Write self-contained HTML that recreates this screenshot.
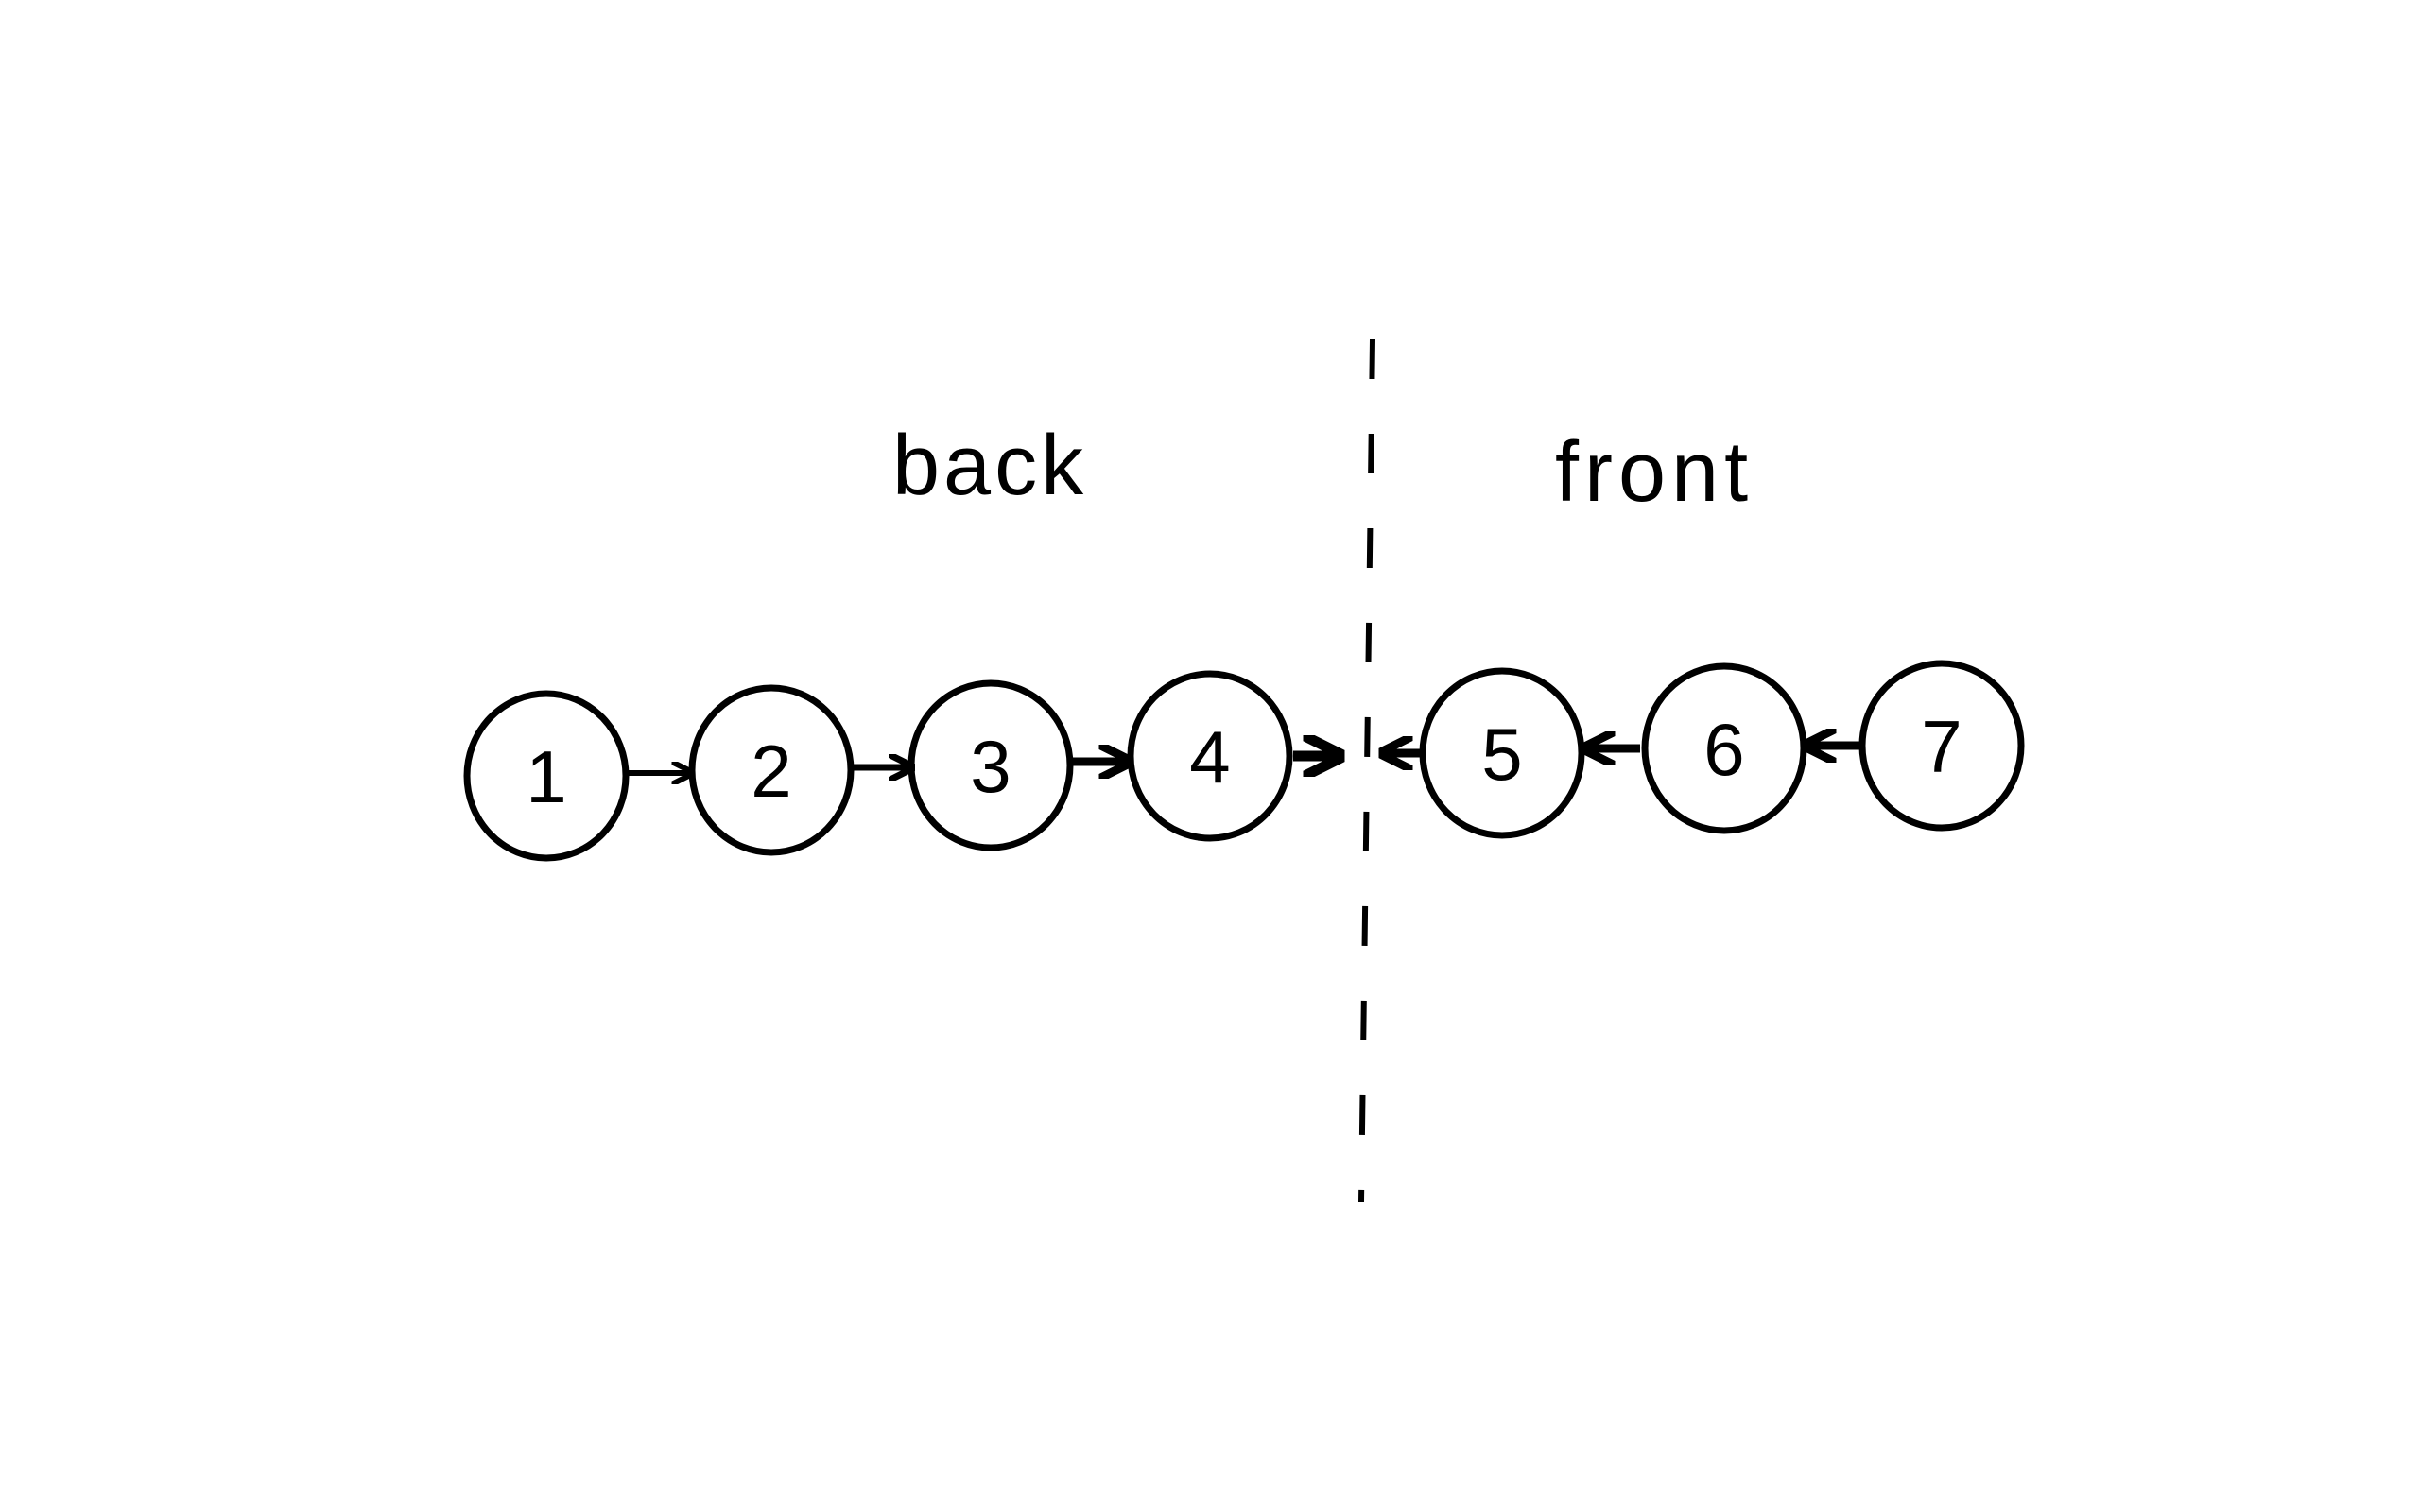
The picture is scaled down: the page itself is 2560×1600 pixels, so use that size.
<!DOCTYPE html>
<html><head><meta charset="utf-8"><style>
html,body{margin:0;padding:0;background:#fff;width:2560px;height:1600px;overflow:hidden}
svg{display:block}
text{font-family:"Liberation Sans",sans-serif;fill:#000}
</style></head><body>
<svg width="2560" height="1600" viewBox="0 0 2560 1600">
<defs>
<marker id="ah" viewBox="0 0 10 10" refX="9" refY="5" markerWidth="4" markerHeight="4" orient="auto-start-reverse">
<path d="M0,0 L10,5 L0,10" fill="none" stroke="#000" stroke-width="2.5"/>
</marker>
</defs>
<line x1="1452" y1="359" x2="1440" y2="1272" stroke="#000" stroke-width="6" stroke-dasharray="42 58"/>
<text x="944" y="523" font-size="90" letter-spacing="4">back</text>
<text x="1645" y="530" font-size="90" letter-spacing="6">front</text>
<g id="nodes"></g>
<g id="arrows"></g>
</svg>
<script>
const labels=["1","2","3","4","5","6","7"];
const cx=[578,816,1048,1280,1589,1824,2054];
const cy=[821,815,810,800,797,792,789];
const ns="http://www.w3.org/2000/svg";
const g=document.getElementById('nodes');
labels.forEach((l,i)=>{
  const c=document.createElementNS(ns,'ellipse');
  c.setAttribute('cx',cx[i]);c.setAttribute('cy',cy[i]);c.setAttribute('rx',84);c.setAttribute('ry',87);
  c.setAttribute('fill','none');c.setAttribute('stroke','#000');c.setAttribute('stroke-width','7');
  
  
  g.appendChild(c);
  const t=document.createElementNS(ns,'text');
  t.setAttribute('x',cx[i]);t.setAttribute('y',cy[i]+28);t.setAttribute('font-size','78');
  t.setAttribute('text-anchor','middle');
  t.textContent=l;
  
  
  g.appendChild(t);
});
const arr=[[665,732,818,6],[902,965,812,7],[1134,1195,806,9],[1368,1418,800,11],[1502,1462,797,9],[1735,1676,792,9],[1968,1910,789,9]];
const ag=document.getElementById('arrows');
arr.forEach((a,i)=>{
  const p=document.createElementNS(ns,'line');
  p.setAttribute('x1',a[0]);p.setAttribute('x2',a[1]);p.setAttribute('y1',a[2]);p.setAttribute('y2',a[2]);
  p.setAttribute('stroke','#000');p.setAttribute('stroke-width',a[3]);p.setAttribute('marker-end','url(#ah)');
  
  
  ag.appendChild(p);
});
</script>
</body></html>
